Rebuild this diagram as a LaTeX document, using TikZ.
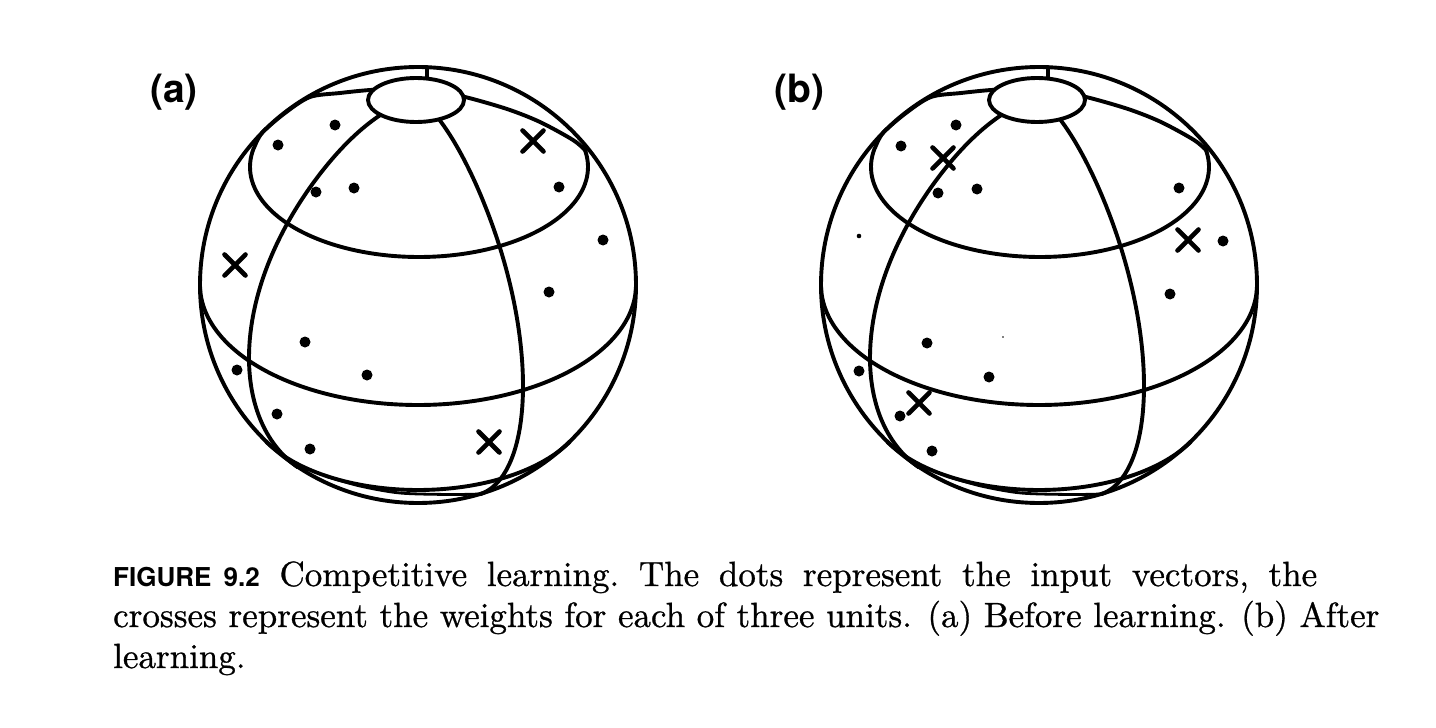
\documentclass[tikz,border=0pt]{standalone}
\usepackage{fontspec}
\newfontfamily\helvfont{TeX Gyre Heros}
\newfontfamily\capfont{lmroman10-regular}[Extension=.otf, FakeBold=0.8]
\tikzset{
  wire/.style={line width=3.9pt, line cap=round, line join=round},
  capdisk/.style={wire, fill=white},
  dotmark/.style={fill=black},
  crossmark/.pic={\draw[line width=4.6pt, line cap=round] (-10.5,-10.5)--(10.5,10.5) (-10.5,10.5)--(10.5,-10.5);},
  panellabel/.style={anchor=base west, inner sep=0pt, font=\helvfont\bfseries\fontsize{39}{40}\selectfont},
  capline/.style={anchor=base west, inner sep=0pt, font=\capfont\fontsize{35}{42}\selectfont}
}
\newcommand{\wiresphere}{%
  % outline
  \draw[wire] (0,0) circle[radius=218];
  % upper latitude, front
  \draw[wire, variable=\t, domain=-12:192, samples=90, smooth] plot ({1+169*cos(\t)},{-118+90*sin(\t)});
  % upper latitude, back parts near the top
  \draw[wire] plot[smooth] coordinates {(-164,-137) (-156,-152) (-133,-172) (-108,-188) (-78,-192) (-48,-195) (-20,-196)};
  \draw[wire] plot[smooth] coordinates {(20,-192) (47,-188) (89,-176) (122,-163) (155,-145) (168,-134)};
  % short tick above the cap
  \draw[wire] (9,-195) -- (9,-218);
  % meridians
  \draw[wire, variable=\t, domain=90:-45, samples=90, smooth] plot ({-169*cos(\t)-10*(sin(\t))^8},{72.8*cos(\t)-185.1*sin(\t)});
  \draw[wire, variable=\t, domain=90:-54, samples=90, smooth] plot ({105*cos(\t)+4*(sin(\t))^8},{100.9*cos(\t)-185.1*sin(\t)});
  % equator (front half)
  \draw[wire, variable=\t, domain=0:180, samples=90, smooth] plot ({218*cos(\t)},{120*sin(\t)});
  % lower latitude (front arc)
  \draw[wire, variable=\t, domain=28:152, samples=70, smooth] plot ({172*cos(\t)},{114+91*sin(\t)});
  % extra line along the bottom
  \draw[line width=2.8pt, line cap=round] plot[smooth] coordinates {(62,209) (32,209.5) (-18,208) (-58,201) (-91,191.5)};
  % polar cap
  \draw[capdisk] (-2,-185) ellipse[x radius=48, y radius=22];
}
\begin{document}
\begin{tikzpicture}[x=1pt,y=-1pt]
\useasboundingbox (0,0) rectangle (1436,728);
\fill[white] (0,0) rectangle (1436,728);

% sphere (a)
\begin{scope}[shift={(418,285)}]
  \wiresphere
\end{scope}
% sphere (b)
\begin{scope}[shift={(1039,285)}]
  \wiresphere
\end{scope}

% dots (a)
\foreach \px/\py in {335/125, 278/145, 316/192, 354/188, 559/187, 603/240, 549/292, 305/342, 367/375, 237/370, 277/414, 310/449}
  \fill[dotmark] (\px,\py) circle[radius=5.5];
% crosses (a)
\foreach \px/\py in {533/141, 235/265, 489/442}
  \pic at (\px,\py) {crossmark};

% dots (b)
\foreach \px/\py in {956/125, 901/146, 938/193, 977/189, 1179/188, 1223/241, 1170/294, 927/343, 989/377, 859/371, 900/416, 932/451}
  \fill[dotmark] (\px,\py) circle[radius=5.5];
\fill[dotmark] (859,236) circle[radius=2.3];
\fill[dotmark] (1003,337) circle[radius=0.9];
% crosses (b)
\foreach \px/\py in {943/158, 1188/240, 919/403}
  \pic at (\px,\py) {crossmark};

% labels
\node[panellabel] (la) at (150,102) {(a)};
\node[panellabel] (lb) at (774,102) {(b)};

% caption
\node[capline] (c1) at (113,586) {\frenchspacing\makebox[1204pt][s]{{\helvfont\bfseries\fontsize{26}{42}\selectfont FIGURE 9.2} Competitive learning. The dots represent the input vectors, the}};
\node[capline] (c2) at (113,627) {crosses represent the weights for each of three units. (a) Before learning. (b) After};
\node[capline] (c3) at (113,668) {learning.};
\end{tikzpicture}
\end{document}
